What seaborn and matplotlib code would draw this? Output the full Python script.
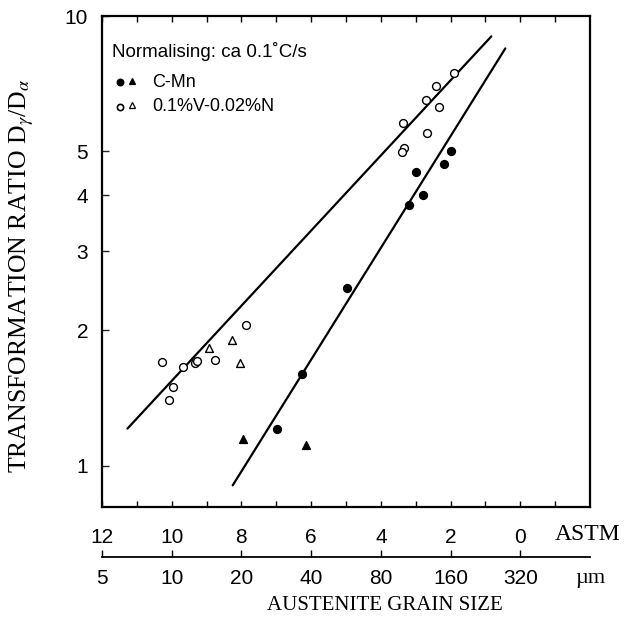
import matplotlib
matplotlib.use("Agg")
import matplotlib.pyplot as plt
import seaborn as sns
from matplotlib.ticker import FixedLocator, FixedFormatter, NullFormatter, NullLocator

# ---- data -------------------------------------------------------------
# C-Mn steel: circles and triangles (filled)
cmn_circ_astm = [6.98, 6.25, 4.96, 2.00, 2.19, 3.00, 2.80, 3.18]
cmn_circ_ratio = [1.21, 1.60, 2.49, 5.01, 4.70, 4.49, 4.00, 3.80]
cmn_tri_astm = [7.95, 6.16]
cmn_tri_ratio = [1.15, 1.11]

# 0.1%V-0.02%N steel: circles and triangles (open)
vn_circ_astm = [10.27, 9.68, 9.33, 9.27, 8.76, 7.86, 9.96, 10.08,
                1.89, 2.42, 2.70, 2.34, 3.37, 2.69, 3.34, 3.39]
vn_circ_ratio = [1.70, 1.66, 1.69, 1.71, 1.72, 2.06, 1.50, 1.40,
                 7.48, 6.98, 6.51, 6.28, 5.79, 5.49, 5.08, 4.99]
vn_tri_astm = [8.27, 8.05, 8.92]
vn_tri_ratio = [1.90, 1.69, 1.83]

# trend lines through each steel's data (end points)
vn_fit_astm = [11.27, 0.83]
vn_fit_ratio = [1.21, 9.01]
cmn_fit_astm = [8.25, 0.43]
cmn_fit_ratio = [0.905, 8.47]

astm_ticks = [12, 10, 8, 6, 4, 2, 0]
astm_minor = [11, 9, 7, 5, 3, 1, -1]
um_labels = ["5", "10", "20", "40", "80", "160", "320"]
ratio_ticks = [1, 2, 3, 4, 5, 10]
ratio_labels = ["1", "2", "3", "4", "5", "10"]

# ---- styling ----------------------------------------------------------
sns.set_theme(style="ticks")
plt.rcParams["font.family"] = ["Liberation Sans", "DejaVu Sans"]
plt.rcParams["mathtext.fontset"] = "stix"
SERIF = ["Liberation Serif", "DejaVu Serif"]

W, H = 634, 624
fig = plt.figure(figsize=(W / 100, H / 100), dpi=100)
fig.patch.set_facecolor("white")


def fx(px):
    return px / W


def fy(py):
    return 1 - py / H


L, R, T, B = 102, 590, 16, 507
ax = fig.add_axes([fx(L), fy(B), (R - L) / W, (B - T) / H])
ax.set_facecolor("white")
ax.set_yscale("log")
ax.set_xlim(12.0, -2.0)
ax.set_ylim(0.81, 10)

# trend lines
sns.lineplot(x=vn_fit_astm, y=vn_fit_ratio, ax=ax, color="black", lw=1.6)
sns.lineplot(x=cmn_fit_astm, y=cmn_fit_ratio, ax=ax, color="black", lw=1.6)

# data points
mk = dict(s=32, linewidth=1.0, edgecolor="black", zorder=3)
sns.scatterplot(x=vn_circ_astm, y=vn_circ_ratio, ax=ax, marker="o",
                color="black", facecolor="white", **mk)
sns.scatterplot(x=vn_tri_astm, y=vn_tri_ratio, ax=ax, marker="^",
                color="black", facecolor="white", **mk)
sns.scatterplot(x=cmn_circ_astm, y=cmn_circ_ratio, ax=ax, marker="o",
                color="black", facecolor="black", **mk)
sns.scatterplot(x=cmn_tri_astm, y=cmn_tri_ratio, ax=ax, marker="^",
                color="black", facecolor="black", **mk)

# frame and ticks
for sp in ax.spines.values():
    sp.set_linewidth(1.6)
    sp.set_color("black")

ax.xaxis.set_major_locator(FixedLocator(astm_ticks))
ax.xaxis.set_major_formatter(FixedFormatter([str(v) for v in astm_ticks]))
ax.xaxis.set_minor_locator(FixedLocator(astm_minor))
ax.xaxis.set_minor_formatter(NullFormatter())
ax.yaxis.set_major_locator(FixedLocator(ratio_ticks))
ax.yaxis.set_major_formatter(FixedFormatter(ratio_labels))
ax.yaxis.set_minor_locator(NullLocator())

ax.tick_params(axis="x", which="both", direction="in", top=True, bottom=True,
               length=4.5, width=1.0, color="black")
ax.tick_params(axis="x", which="major", labelsize=15, pad=15, labelcolor="black")
ax.tick_params(axis="y", which="major", direction="in", left=True, right=False,
               length=5, width=1.0, labelsize=15, pad=10, labelcolor="black")

ax.set_xlabel("")
ax.set_ylabel(r"TRANSFORMATION RATIO D$_{\gamma}$/D$_{\alpha}$",
              fontsize=18.5, family=SERIF, color="black")
ax.yaxis.set_label_coords((36 - L) / (R - L), (B - 276) / (B - T))

# legend block
ax.text(0.021, 0.928, "Normalising: ca 0.1\u02daC/s", transform=ax.transAxes,
        fontsize=13.5, va="center", ha="left", color="black")
leg_rows = [("C-Mn", "black", 0.865), ("0.1%V-0.02%N", "white", 0.815)]
for label, face, yy in leg_rows:
    ax.plot([0.037], [yy], marker="o", ms=4.5, mfc=face, mec="black", mew=1.2,
            transform=ax.transAxes, clip_on=False)
    ax.plot([0.061], [yy + 0.003], marker="^", ms=5, mfc=face, mec="black",
            mew=0.9, transform=ax.transAxes, clip_on=False)
    ax.text(0.102, yy, label, transform=ax.transAxes, fontsize=13,
            va="center", ha="left", color="black")

# second scale: grain size in micrometres
ax2 = fig.add_axes([fx(L), fy(557), (R - L) / W, 0.0001])
ax2.set_xlim(12.0, -2.0)
ax2.patch.set_visible(False)
for side in ("top", "left", "right"):
    ax2.spines[side].set_visible(False)
ax2.spines["bottom"].set_linewidth(1.3)
ax2.spines["bottom"].set_color("black")
ax2.set_yticks([])
ax2.xaxis.set_major_locator(FixedLocator(astm_ticks))
ax2.xaxis.set_major_formatter(FixedFormatter(um_labels))
ax2.tick_params(axis="x", direction="in", length=5, width=1.0, labelsize=15,
                pad=9, color="black", labelcolor="black")

fig.text(fx(588), fy(534), "ASTM", family=SERIF, fontsize=17,
         ha="center", va="center", color="black")
fig.text(fx(590), fy(578), "\u00b5m", family=SERIF, fontsize=16,
         ha="center", va="center", color="black")
fig.text(fx(385), fy(605), "AUSTENITE GRAIN SIZE", family=SERIF, fontsize=15,
         ha="center", va="center", color="black")

fig.savefig("out.png", dpi=100, facecolor="white")
